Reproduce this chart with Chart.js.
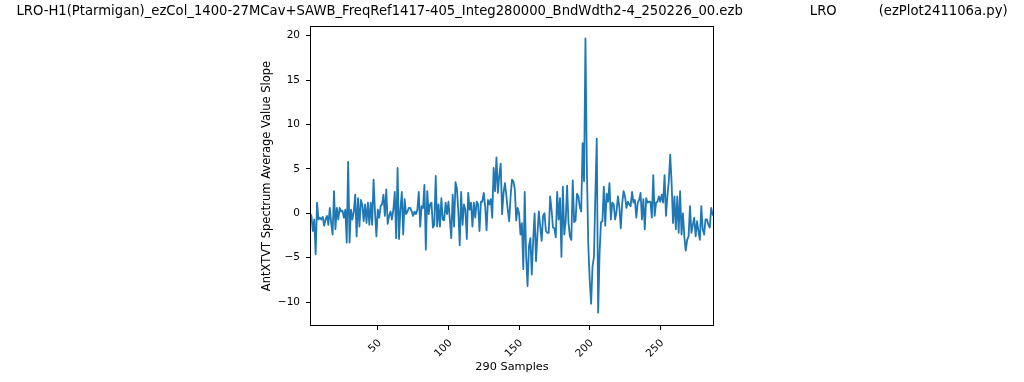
<!DOCTYPE html>
<html><head><meta charset="utf-8">
<script src="https://cdn.jsdelivr.net/npm/chart.js@4.4.1/dist/chart.umd.min.js"></script>
<style>html,body{margin:0;padding:0;background:#fff;}canvas{display:block;}</style>
</head><body>
<canvas id="c" width="1024" height="382"></canvas>
<script>
const sampleStart = 2;
const slopeValues = [
 0.0,-0.3,-2.0,-0.7,-4.6, 1.2,-0.7,-0.5,-0.7,-0.4,
-1.4,-0.7,-0.3,-1.3, 0.6,-1.1,-2.4, 2.5,-1.8, 0.6,
-0.7, 0.6, 0.2, 0.3,-0.5, 0.4,-3.3, 5.8,-3.3, 0.4,
-0.7, 0.2, 2.1,-2.6, 1.7,-1.5, 1.5, 1.0,-0.9, 1.0,
-1.1, 1.2,-1.3, 1.2,-1.3, 3.8, 0.2,-2.6, 0.4,-0.5,
 0.8, 1.0, 2.1,-0.3, 2.7,-1.2,-0.3, 0.2,-0.7, 0.4,
 2.4,-2.8, 5.1,-2.9, 0.4, 2.4,-2.4, 1.6,-0.1, 0.2,
 0.6, 0.6, 0.2,-0.3, 0.2,-0.1, 0.4, 2.4,-1.5, 0.8,
 0.6, 3.2,-4.1, 2.5,-0.1, 1.0, 1.2,-1.6,-1.3, 4.2,
-1.5, 1.0,-1.5, 1.7,-0.7,-0.8, 1.2,-0.1, 1.3,-0.7,
-2.8, 2.1,-1.5, 3.5, 2.8, 0.2,-3.6, 2.4,-1.3, 1.0,
 0.4,-2.9, 2.3, 0.4, 1.2,-1.5, 1.2,-0.5, 1.3, 1.0,
-2.0, 1.3, 1.3, 2.3, 0.8,-1.9, 1.5, 1.0, 1.6,-0.5,
 5.1, 2.5, 6.3, 2.3, 4.3, 5.6,-0.1, 2.3, 3.4, 2.0,
 0.4,-0.9, 1.9, 3.8, 3.6, 2.7,-0.8, 0.6, 0.0,-2.4,
-1.1,-6.3, 2.4,-4.8,-8.2,-3.7,-2.8,-6.9,-3.0, 0.0,
-5.4,-2.4, 0.2,-1.5,-3.1,-0.3, 0.0,-2.0,-2.2,-2.2,
 1.9, 0.4,-1.6,-1.7,-2.7, 2.4,-0.7, 1.7,-4.9, 3.0,
-2.4,-0.9, 3.1,-1.1,-2.6,-3.0, 3.7,-1.0,-0.8, 2.2,
 1.9, 0.7, 0.2, 7.9, 3.6,19.7, 5.0,-3.5,-7.5,-10.2,
-6.0,-4.9, 2.0, 8.4,-11.2,-4.5,-1.0,-0.9, 3.0,-1.4,
 2.2, 1.3, 3.4,-0.7, 1.2, 1.0,-0.7, 0.2, 1.9, 0.7,
-1.7, 1.1, 2.5, 1.9, 0.6, 1.3, 1.0, 0.8, 2.4, 1.2,
 1.5,-0.5, 1.2, 1.5, 2.3,-0.7, 1.6,-1.8, 1.7, 1.2,
 1.3, 1.3,-0.5, 4.3,-0.3, 1.2, 1.3, 1.9, 1.3, 2.1,
 1.2, 4.3,-0.3, 1.9, 3.6, 6.6, 3.4,-1.1, 1.9,-1.8,
 1.9,-2.2, 2.5,-2.4, 0.0,-2.6,-4.2,-3.0,-2.6, 0.8,
-2.2,-1.3,-0.5,-2.6,-0.9,-2.0,-3.0, 0.8,-1.8,-2.4,
-0.7,-0.7,-1.3,-1.6, 0.6,-0.15,-0.3
];
const xTicks = [50, 100, 150, 200, 250];
const yTicks = [-10, -5, 0, 5, 10, 15, 20];
const xRange = [2, 288];
const yRange = [-12.7, 21.1];
const titleText = "LRO-H1(Ptarmigan)_ezCol_1400-27MCav+SAWB_FreqRef1417-405_Integ280000_BndWdth2-4_250226_00.ezb                LRO          (ezPlot241106a.py)";
const xLabel = "290 Samples";
const yLabel = "AntXTVT Spectrum Average Value Slope";

const FONT = "'DejaVu Sans', sans-serif";
const points = slopeValues.map((v, i) => ({x: sampleStart + i, y: v}));

const framePlugin = {
  id: 'frame',
  afterDraw(chart) {
    const {ctx, chartArea: a} = chart;
    ctx.save();
    ctx.strokeStyle = '#000';
    ctx.lineWidth = 1;
    ctx.strokeRect(Math.round(a.left) + 0.5, Math.round(a.top) + 0.5, Math.round(a.right - a.left) - 1, Math.round(a.bottom - a.top) - 1);
    ctx.fillStyle = '#000';
    ctx.font = "13.2px " + FONT;
    ctx.textAlign = 'center';
    ctx.textBaseline = 'middle';
    ctx.fillText(titleText, chart.width / 2, 12);
    ctx.restore();
  }
};

new Chart(document.getElementById('c'), {
  type: 'line',
  data: { datasets: [{
    data: points,
    borderColor: '#1f77b4',
    borderWidth: 1.8,
    pointRadius: 0,
    tension: 0,
    borderJoinStyle: 'round',
    fill: false
  }]},
  options: {
    responsive: false,
    animation: false,
    devicePixelRatio: 1,
    layout: { padding: { left: 256, right: 310, top: 26, bottom: 0 } },
    plugins: { legend: { display: false }, tooltip: { enabled: false }, title: { display: false } },
    scales: {
      x: {
        type: 'linear', min: xRange[0], max: xRange[1],
        afterBuildTicks: s => { s.ticks = xTicks.map(v => ({value: v})); },
        afterFit: s => { s.height = 56; },
        grid: { drawOnChartArea: false, drawTicks: true, tickLength: 4, color: '#000' },
        border: { display: false },
        ticks: { color: '#000', font: { family: FONT, size: 10.5 }, minRotation: 45, maxRotation: 45, padding: 7, labelOffset: 2 },
        title: { display: true, text: xLabel, color: '#000', font: { family: FONT, size: 11.3 }, padding: { top: 0, bottom: 8 } }
      },
      y: {
        type: 'linear', min: yRange[0], max: yRange[1],
        afterBuildTicks: s => { s.ticks = yTicks.map(v => ({value: v})); },
        afterFit: s => { s.width = 54; },
        grid: { drawOnChartArea: false, drawTicks: true, tickLength: 4, color: '#000' },
        border: { display: false },
        ticks: { color: '#000', font: { family: FONT, size: 10.5 }, padding: 6, callback: v => String(v).replace('-', '\u2212') },
        title: { display: true, text: yLabel, color: '#000', font: { family: FONT, size: 11.5 }, padding: { top: 4, bottom: 4 } }
      }
    }
  },
  plugins: [framePlugin]
});
</script>
</body></html>
